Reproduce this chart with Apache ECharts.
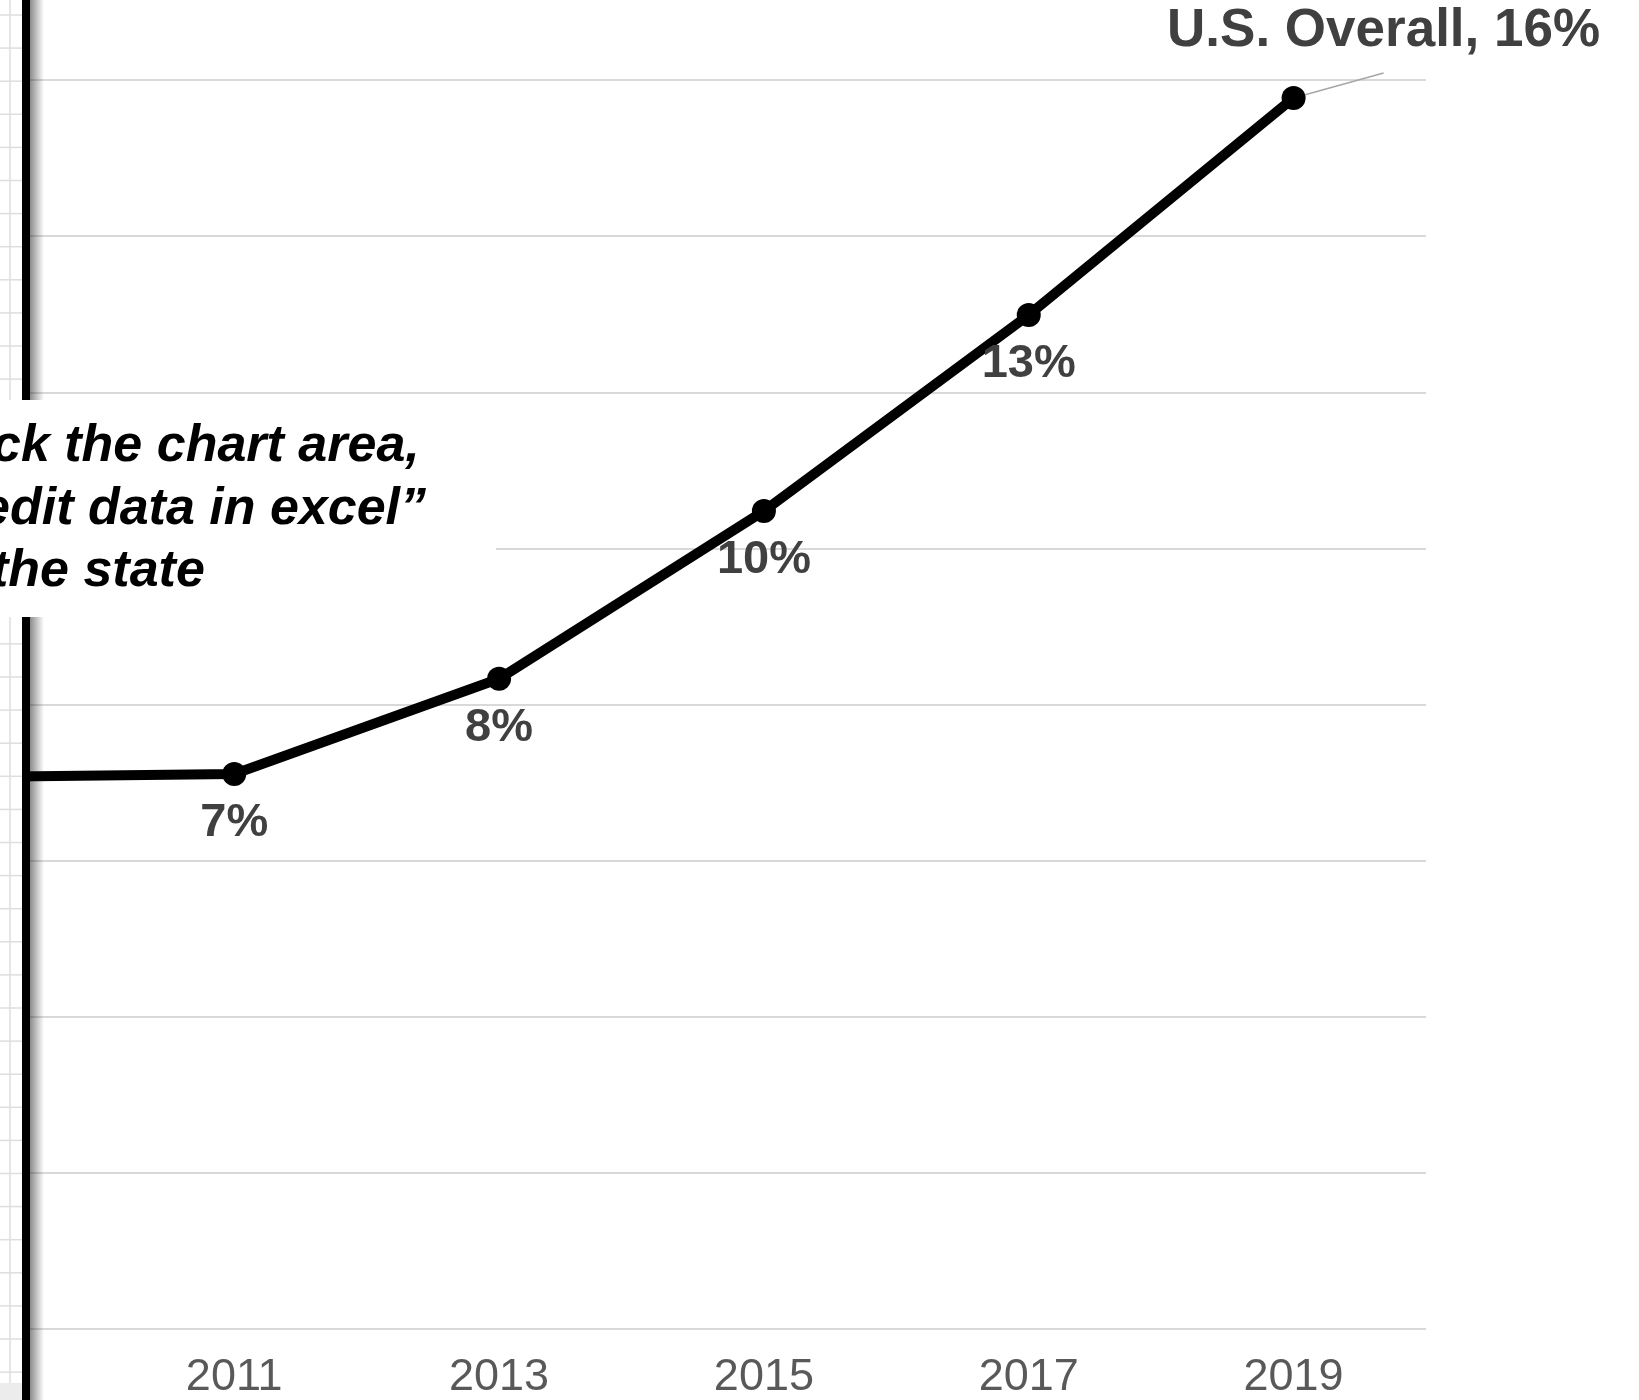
<!DOCTYPE html>
<html>
<head>
<meta charset="utf-8">
<script src="https://cdn.jsdelivr.net/npm/echarts@6/dist/echarts.min.js"></script>
<style>
  html, body { margin: 0; padding: 0; background: #fff; overflow: hidden; width: 1639px; height: 1400px; }
  /* the slide continues past the left edge: 2009 sits out of view */
  #chart { position: absolute; left: -163px; top: 0; width: 1802px; height: 1400px; }
</style>
</head>
<body>
<div id="chart"></div>
<script>
// years on the category axis (2009 sits off the left edge of the slide)
var years = ['2009', '2011', '2013', '2015', '2017', '2019'];
// U.S. overall share, percent
var usOverall = [7.07, 7.11, 8.33, 10.48, 12.99, 15.77];
var seriesName = 'U.S. Overall';
// the note in the text box, only the visible part of each line
var noteLines = ['ck the chart area,', 'edit data in excel\u201d', 'the state'];

var FONT = "'Liberation Sans', Arial, Helvetica, sans-serif";
var SHIFT = 163; // canvas starts 163px left of the picture

var myChart = echarts.init(document.getElementById('chart'));

// data points, last one gets the big label + guide line
var lastIdx = usOverall.length - 1;
var points = usOverall.map(function (v, i) {
    if (i === lastIdx) {
        return {
            value: v,
            label: {
                position: 'top',
                distance: 13,
                fontSize: 53,
                padding: [0, 0, 15, 0],
                backgroundColor: 'rgba(255,255,255,0)',
                formatter: function (p) { return seriesName + ', ' + Math.round(p.value) + '%'; }
            },
            labelLine: {
                show: true,
                length2: 0,
                lineStyle: { color: '#a6a6a6', width: 1.5 }
            }
        };
    }
    return v;
});

// left edge of the picture: spreadsheet cells + window border
var deco = [];
deco.push({ type: 'rect', shape: { x: 0, y: 0, width: SHIFT + 22, height: 1400 }, style: { fill: '#fff' }, z: 100 });
deco.push({ type: 'rect', shape: { x: SHIFT, y: 1383, width: 22, height: 17 }, style: { fill: '#ececec' }, z: 101 });
deco.push({ type: 'line', shape: { x1: SHIFT + 10, y1: 0, x2: SHIFT + 10, y2: 1383 }, style: { stroke: '#dedede', lineWidth: 1.5 }, z: 101 });
for (var y = 15; y < 1383; y += 33.1) {
    deco.push({ type: 'line', shape: { x1: SHIFT, y1: y, x2: SHIFT + 22, y2: y }, style: { stroke: '#dedede', lineWidth: 1.5 }, z: 101 });
}
deco.push({
    type: 'rect', shape: { x: SHIFT + 30, y: 0, width: 14, height: 1400 },
    style: {
        fill: new echarts.graphic.LinearGradient(0, 0, 1, 0, [
            { offset: 0, color: 'rgba(0,0,0,0.45)' },
            { offset: 1, color: 'rgba(0,0,0,0)' }
        ])
    },
    z: 101
});
deco.push({ type: 'rect', shape: { x: SHIFT + 22, y: 0, width: 8, height: 1400 }, style: { fill: '#000' }, z: 102 });
// text box
deco.push({ type: 'rect', shape: { x: 0, y: 400, width: SHIFT + 496, height: 217 }, style: { fill: '#fff' }, z: 103 });
var noteX = [-8, -19, -9];
var noteY = [447, 510, 572];
for (var i = 0; i < noteLines.length; i++) {
    deco.push({
        type: 'text', x: SHIFT + noteX[i], y: noteY[i], z: 104,
        style: {
            text: noteLines[i],
            font: 'italic bold 52px ' + FONT,
            fill: '#000',
            textAlign: 'left',
            textVerticalAlign: 'middle'
        }
    });
}

myChart.setOption({
    animation: false,
    backgroundColor: '#fff',
    grid: {
        left: 0,
        right: 213,
        top: 80,
        bottom: 68,
        containLabel: false
    },
    xAxis: {
        type: 'category',
        data: years,
        boundaryGap: true,
        axisLine: { show: false },
        axisTick: { show: false },
        splitLine: { show: false },
        axisLabel: {
            color: '#595959',
            fontFamily: FONT,
            fontSize: 45,
            margin: 26,
            interval: 0
        }
    },
    yAxis: {
        type: 'value',
        min: 0,
        max: 16,
        interval: 2,
        axisLine: { show: false },
        axisTick: { show: false },
        axisLabel: { show: false },
        splitLine: { lineStyle: { color: '#d9d9d9', width: 2 } }
    },
    series: [
        {
            name: seriesName,
            type: 'line',
            data: points,
            symbol: 'circle',
            symbolSize: 24,
            lineStyle: { color: '#000', width: 10 },
            itemStyle: { color: '#000' },
            label: {
                show: true,
                position: 'bottom',
                distance: 14,
                color: '#404040',
                fontFamily: FONT,
                fontWeight: 'bold',
                fontSize: 47,
                formatter: function (p) { return Math.round(p.value) + '%'; }
            },
            labelLayout: function (params) {
                if (params.dataIndex === lastIdx) {
                    return { dx: 90, dy: 0 };
                }
                return {};
            }
        }
    ],
    graphic: { elements: deco }
});
</script>
</body>
</html>
